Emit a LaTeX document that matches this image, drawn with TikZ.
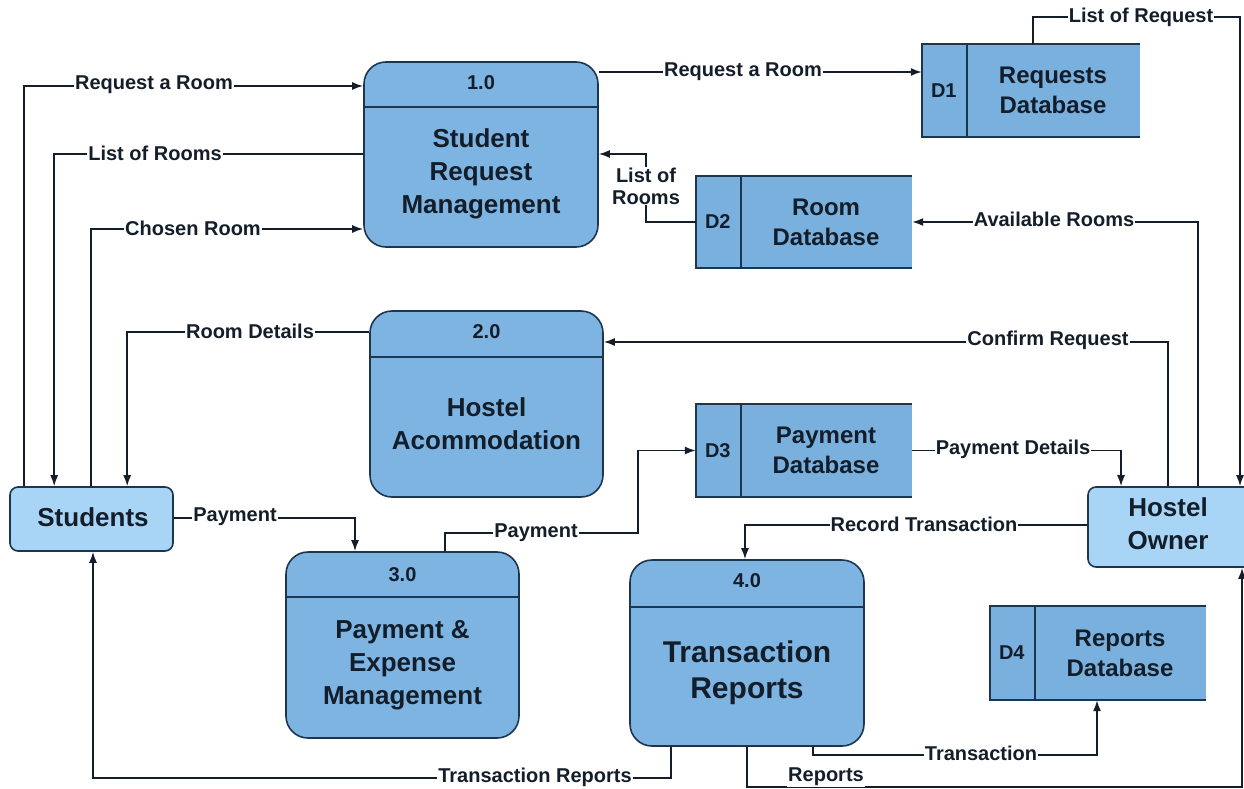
\documentclass[tikz,border=0pt]{standalone}
\usepackage{fontspec}
\setmainfont{Liberation Sans}
\usetikzlibrary{arrows.meta,calc}
\definecolor{procc}{HTML}{7DB4E2}
\definecolor{storec}{HTML}{7AB0DE}
\definecolor{extc}{HTML}{A8D5F5}
\definecolor{edgec}{HTML}{1E3550}
\definecolor{txtc}{HTML}{141E2A}
\begin{document}
\begin{tikzpicture}[x=1pt,y=-1pt,
  proc/.style={draw=edgec, line width=1.6pt, fill=procc, rounded corners=22pt, inner sep=0pt},
  ext/.style={draw=edgec, line width=1.6pt, fill=extc, rounded corners=8pt, inner sep=0pt},
  store/.style={fill=storec, draw=none, inner sep=0pt},
  sline/.style={draw=edgec, line width=1.6pt},
  num/.style={text=txtc, font=\bfseries\fontsize{20}{22}\selectfont},
  ptxt/.style={text=txtc, align=center, font=\bfseries\fontsize{26}{33}\selectfont},
  dtxt/.style={text=txtc, align=center, font=\bfseries\fontsize{24}{30}\selectfont},
  did/.style={text=txtc, font=\bfseries\fontsize{20}{22}\selectfont},
  lbl/.style={text=txtc, fill=white, inner sep=1pt, align=center, font=\bfseries\fontsize{20}{22}\selectfont},
  flow/.style={draw=txtc, line width=1.6pt, -{Latex[length=11pt,width=8pt]}}
]
\useasboundingbox (0,0) rectangle (1244,789);
\fill[white] (0,0) rectangle (1244,789);

% processes
\node[proc, minimum width=234pt, minimum height=185pt] (p1) at (481,154.5) {};
\draw[sline] (p1.west |- 0,107) -- (p1.east |- 0,107);
\node[num] (p1n) at (481,83) {1.0};
\node[ptxt] (p1t) at (481,174) {Student\\Request\\Management};

\node[proc, minimum width=233pt, minimum height=186pt] (p2) at (486.5,404) {};
\draw[sline] (p2.west |- 0,357) -- (p2.east |- 0,357);
\node[num] (p2n) at (486.5,332) {2.0};
\node[ptxt] (p2t) at (486.5,424) {Hostel\\Acommodation};

\node[proc, minimum width=233pt, minimum height=186pt] (p3) at (402.5,645) {};
\draw[sline] (p3.west |- 0,597) -- (p3.east |- 0,597);
\node[num] (p3n) at (402.5,575) {3.0};
\node[ptxt] (p3t) at (402.5,665) {Payment \&\\Expense\\Management};

\node[proc, minimum width=234pt, minimum height=186pt] (p4) at (747,653) {};
\draw[sline] (p4.west |- 0,607) -- (p4.east |- 0,607);
\node[num] (p4n) at (747,581) {4.0};
\node[ptxt, font=\bfseries\fontsize{30}{36}\selectfont] (p4t) at (747,673) {Transaction\\Reports};

% external entities
\node[ext, minimum width=163pt, minimum height=64pt] (st) at (91.5,519) {};
\node[ptxt] (stt) at (93,517) {Students};
\node[ext, minimum width=164pt, minimum height=80pt] (ow) at (1170,527) {};
\node[ptxt] (owt) at (1168,524) {Hostel\\Owner};

% data stores
\foreach \n/\cx/\cy/\w/\h/\id/\txt in {d1/1031/90.5/218/93/D1/{Requests\\Database},
  d2/804/222/216/92/D2/{Room\\Database},
  d3/804/450.5/216/93/D3/{Payment\\Database},
  d4/1098/653/216/94/D4/{Reports\\Database}}{
  \node[store, minimum width=\w pt, minimum height=\h pt] (\n) at (\cx,\cy) {};
  \draw[sline] (\n.north east) -- (\n.north west) -- (\n.south west) -- (\n.south east);
  \draw[sline] ([xshift=45pt]\n.north west) -- ([xshift=45pt]\n.south west);
  \node[did] (\n id) at ([xshift=22pt]\n.west) {\id};
  \node[dtxt] (\n t) at ([xshift=22pt]\n.center) {\txt};
}

% flows
\draw[flow] ([xshift=15pt]st.north west) |- (p1.west |- 0,86);
\node[lbl] (l1) at (154,85) {Request a Room};
\draw[flow] (p1.west |- 0,154) -| ([xshift=45pt]st.north west);
\node[lbl] (l2) at (155,153) {List of Rooms};
\draw[flow] ([xshift=82pt]st.north west) |- (p1.west |- 0,229);
\node[lbl] (l3) at (193,228) {Chosen Room};
\draw[flow] (p2.west |- 0,332) -| ([xshift=118pt]st.north west);
\node[lbl] (l4) at (250,331) {Room Details};
\draw[flow] (p1.east |- 0,72) -- (d1.west |- 0,72);
\node[lbl] (l5) at (743,72) {Request a Room};
\draw[flow] ([xshift=2pt]d1.north) -- ++(0,-27) -| ([xshift=70pt]ow.north);
\node[lbl] (l6) at (1141,17) {List of Request};
\draw[flow] (d2.west) -- ++(-50,0) |- (p1.east |- 0,154);
\node[lbl] (l7) at (646,186) {List of\\Rooms};
\draw[flow] ([xshift=28pt]ow.north) |- (d2.east);
\node[lbl] (l8) at (1054,219) {Available Rooms};
\draw[flow] ([xshift=-2pt]ow.north) |- (p2.east |- 0,342);
\node[lbl] (l9) at (1048,340) {Confirm Request};
\draw[flow] (d3.east) -| ([xshift=-49pt]ow.north);
\node[lbl] (l10) at (1013,449) {Payment Details};
\draw[flow] (st.east |- 0,518) -| ([xshift=-47.5pt]p3.north);
\node[lbl] (l11) at (235,517) {Payment};
\draw[flow] ([xshift=42.5pt]p3.north) -- ++(0,-18) -| ([xshift=-58pt]d3.west) -- (d3.west);
\node[lbl] (l12) at (536,533) {Payment};
\draw[flow] (ow.west |- 0,525) -| ([xshift=-2pt]p4.north);
\node[lbl] (l13) at (924,524) {Record Transaction};
\draw[flow] ([xshift=-76pt]p4.south) -- ++(0,31) -| ([xshift=1.5pt]st.south);
\node[lbl] (l14) at (535,777) {Transaction Reports};
\draw[flow] ([xshift=66pt]p4.south) -- ++(0,8) -| ([xshift=-1pt]d4.south);
\node[lbl] (l15) at (981,753) {Transaction};
\draw[flow] (p4.south) -- ++(0,40) -| ([xshift=72pt]ow.south);
\node[lbl] (l16) at (826,777) {Reports};
\end{tikzpicture}
\end{document}
